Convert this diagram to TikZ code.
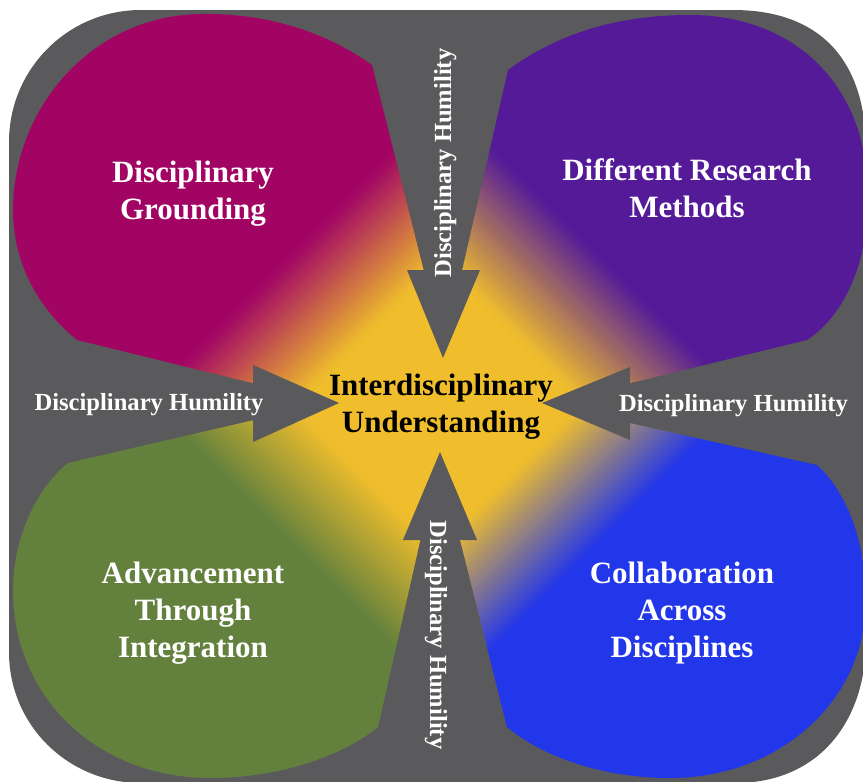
\documentclass[tikz,border=0pt]{standalone}
\usepackage{fontspec}
\setmainfont{Liberation Serif}
\definecolor{bggray}{RGB}{90,90,92}
\definecolor{mag}{RGB}{162,4,100}
\definecolor{pur}{RGB}{84,26,152}
\definecolor{grn}{RGB}{99,129,61}
\definecolor{blu}{RGB}{34,54,234}
\definecolor{yel}{RGB}{240,190,45}
\tikzset{
  petaltext/.style={text=white, font=\bfseries\fontsize{31}{37}\selectfont, align=center, inner sep=0pt},
  centertext/.style={text=black, font=\bfseries\fontsize{31}{37}\selectfont, align=center, inner sep=0pt},
  humility/.style={text=white, font=\bfseries\fontsize{24.6}{28}\selectfont, inner sep=0pt},
  arrowhead/.style={fill=bggray},
}
\newcommand\petalgrad[4]{%
  \begin{scope}[shift={(441,403)}, rotate=#1]
    \fill[yel] (-900,-900) rectangle (#3,900);
    \fill[#2] (#4,-900) rectangle (900,900);
    \foreach \i in {0,...,39}{%
      \pgfmathsetmacro\sa{#3+\i*(#4-#3)/40}%
      \pgfmathsetmacro\sb{\sa+(#4-#3)/40+1}%
      \pgfmathtruncatemacro\pc{(\i+0.5)*100/40}%
      \fill[#2!\pc!yel] (\sa,-900) rectangle (\sb,900);
    }
  \end{scope}}
\begin{document}
\begin{tikzpicture}[x=1pt,y=-1pt]
\useasboundingbox (0,0) rectangle (863,782);
\fill[white] (0,0) rectangle (863,782);
% background
\fill[bggray] (9,142) .. controls (9,69) and (68,10) .. (141,10) -- (733,10)
  .. controls (820,10) and (866,60) .. (866,150) -- (866,640)
  .. controls (866,720) and (820,783) .. (735,783) -- (141,783)
  .. controls (68,783) and (9,725) .. (9,652) -- cycle;
\coordinate (O) at (441,403);
% magenta petal
\begin{scope}
  \clip (465,435) -- (372,65)
    .. controls (320,28) and (260,13) .. (200,14)
    .. controls (90,16) and (13,110) .. (13,210)
    .. controls (13,265) and (40,310) .. (77,340) -- cycle;
  \petalgrad{135}{mag}{100}{210}
\end{scope}
% purple petal
\begin{scope}
  \clip (425,433) -- (508,70)
    .. controls (560,32) and (620,15) .. (690,15)
    .. controls (790,15) and (865,80) .. (868,190)
    .. controls (870,260) and (845,315) .. (807,340) -- cycle;
  \petalgrad{45}{pur}{100}{215}
\end{scope}
% green petal
\begin{scope}
  \clip (458,373) -- (68,463)
    .. controls (35,490) and (13,540) .. (13,590)
    .. controls (13,700) and (100,778) .. (210,778)
    .. controls (290,778) and (350,750) .. (378,727) -- cycle;
  \petalgrad{225}{grn}{105}{205}
\end{scope}
% blue petal
\begin{scope}
  \clip (419,376) -- (817,465)
    .. controls (845,490) and (866,540) .. (866,600)
    .. controls (866,700) and (780,778) .. (670,778)
    .. controls (600,778) and (540,755) .. (507,727) -- cycle;
  \petalgrad{315}{blu}{100}{210}
\end{scope}
% arrowheads
\coordinate (tT) at (443,358);
\coordinate (tL) at (339,403);
\coordinate (tR) at (542,403);
\coordinate (tB) at (440,452);
\fill[arrowhead] (407,270) -- (480,270) -- (tT) -- cycle;
\fill[arrowhead] (253,365) -- (253,442) -- (tL) -- cycle;
\fill[arrowhead] (630,367) -- (630,440) -- (tR) -- cycle;
\fill[arrowhead] (403,540) -- (477,540) -- (tB) -- cycle;
% texts
\node[petaltext] (grounding) at (193,193.3) {Disciplinary\\Grounding};
\node[petaltext] (methods) at (687,188.5) {Different Research\\Methods};
\node[petaltext] (advance) at (193,613) {Advancement\\Through\\Integration};
\node[petaltext] (collab) at (682,613.5) {Collaboration\\Across\\Disciplines};
\node[centertext] (ctr) at (441,406.5) {Interdisciplinary\\Understanding};
\node[humility, anchor=base] (hl) at (149,410) {Disciplinary Humility};
\node[humility, anchor=base] (hr) at (733.5,411) {Disciplinary Humility};
\node[humility, anchor=base, rotate=90] (ht) at (451,163) {Disciplinary Humility};
\node[humility, anchor=base, rotate=-90] (hb) at (430,635) {Disciplinary Humility};
\end{tikzpicture}
\end{document}
